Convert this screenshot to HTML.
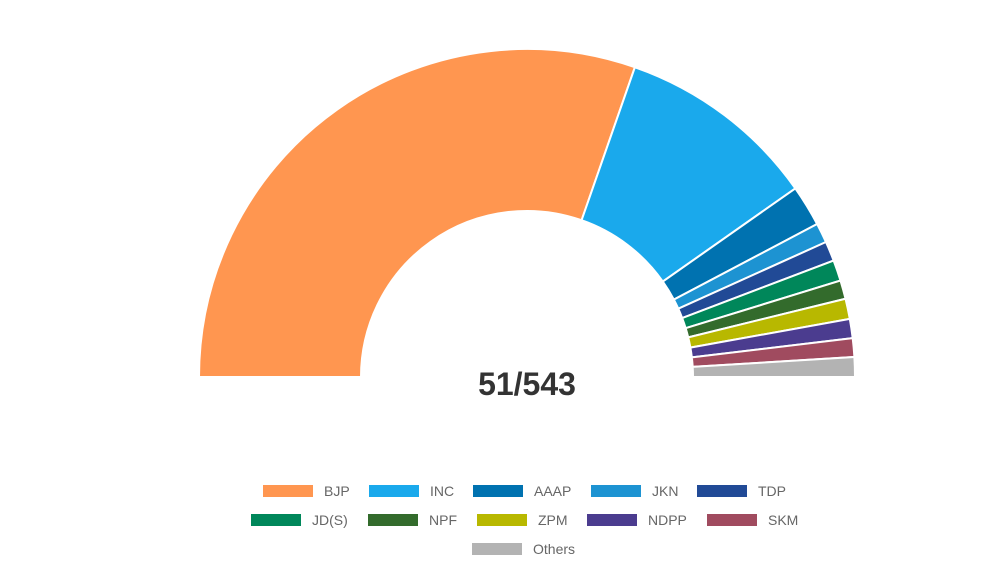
<!DOCTYPE html>
<html><head><meta charset="utf-8"><style>
body{margin:0;background:#fff;width:994px;height:583px;overflow:hidden;font-family:"Liberation Sans",sans-serif}
.sw{position:absolute;width:50px;height:12px}
.lb{position:absolute;font-size:14px;color:#666;line-height:14px}
</style></head><body>
<svg id="s" width="994" height="583" style="position:absolute;left:0;top:0">
<text x="527" y="395" text-anchor="middle" font-family="Liberation Sans, sans-serif" font-weight="bold" font-size="32" fill="#333">51/543</text>
</svg>
<div id="lg"></div>
<script>
var cx=527,cy=377,R=328,r=166;
var segs=[[180,70.8,'#ff9650'],[70.8,35.1,'#1aa9ec'],[35.1,27.8,'#0072b0'],[27.8,24.3,'#1d93d2'],[24.3,20.8,'#214a96'],[20.8,17.1,'#00875a'],[17.1,13.8,'#336b2c'],[13.8,10.2,'#b8b800'],[10.2,6.8,'#4b3c8f'],[6.8,3.5,'#a04b5f'],[3.5,0,'#b3b3b3']];
var s=document.getElementById('s'),h='';
function p(a,rad){a=a*Math.PI/180;return (cx+rad*Math.cos(a)).toFixed(2)+','+(cy-rad*Math.sin(a)).toFixed(2);}
segs.forEach(function(g){
 h+='<path d="M'+p(g[0],R)+' A'+R+','+R+' 0 0 1 '+p(g[1],R)+' L'+p(g[1],r)+' A'+r+','+r+' 0 0 0 '+p(g[0],r)+' Z" fill="'+g[2]+'" stroke="#fff" stroke-width="2"/>';
});
s.innerHTML=h+s.innerHTML;
var L=[['BJP',263,485,'#ff9650'],['INC',369,485,'#1aa9ec'],['AAAP',473,485,'#0072b0'],['JKN',591,485,'#1d93d2'],['TDP',697,485,'#214a96'],
['JD(S)',251,514,'#00875a'],['NPF',368,514,'#336b2c'],['ZPM',477,514,'#b8b800'],['NDPP',587,514,'#4b3c8f'],['SKM',707,514,'#a04b5f'],['Others',472,543,'#b3b3b3']];
var lh='';
L.forEach(function(l){lh+='<div class="sw" style="left:'+l[1]+'px;top:'+l[2]+'px;background:'+l[3]+'"></div><div class="lb" style="left:'+(l[1]+61)+'px;top:'+(l[2]-1)+'px">'+l[0]+'</div>';});
document.getElementById('lg').innerHTML=lh;
</script>
</body></html>
